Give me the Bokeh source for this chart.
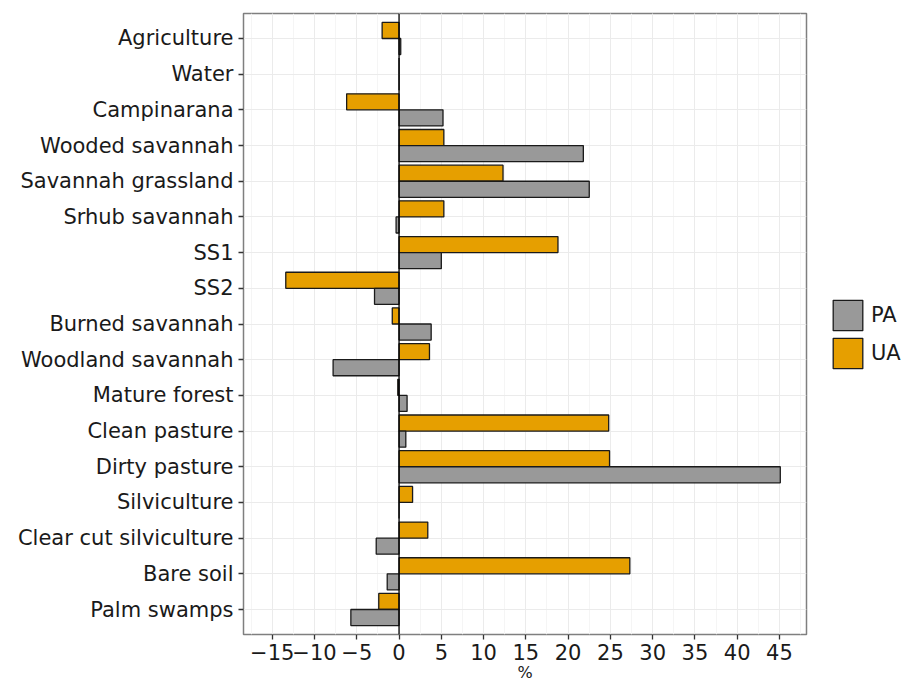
from bokeh.plotting import figure
from bokeh.models import ColumnDataSource, FactorRange, Span, Legend, LegendItem, SingleIntervalTicker
from bokeh.transform import dodge
from bokeh.embed import file_html
from bokeh.resources import INLINE

categories = ["Agriculture", "Water", "Campinarana", "Wooded savannah", "Savannah grassland",
              "Srhub savannah", "SS1", "SS2", "Burned savannah", "Woodland savannah",
              "Mature forest", "Clean pasture", "Dirty pasture", "Silviculture",
              "Clear cut silviculture", "Bare soil", "Palm swamps"]
ua_values = [-2.0, 0.0, -6.2, 5.3, 12.3, 5.3, 18.8, -13.4, -0.8, 3.6,
             -0.15, 24.8, 24.9, 1.6, 3.4, 27.3, -2.4]
pa_values = [0.2, 0.0, 5.2, 21.8, 22.5, -0.35, 5.0, -2.9, 3.8, -7.8,
             0.95, 0.8, 45.1, 0.0, -2.7, -1.4, -5.7]

FONT = "DejaVu Sans"
src = ColumnDataSource(dict(cat=categories, UA=ua_values, PA=pa_values))

p = figure(y_range=FactorRange(factors=list(reversed(categories)), range_padding=0.2,
                               range_padding_units="absolute"),
           x_range=(-18.4, 48.2),
           frame_width=563, frame_height=621,
           min_border_left=243, min_border_top=13, min_border_bottom=10, min_border_right=94,
           output_backend="svg", toolbar_location=None)

ua = p.hbar(y=dodge("cat", 0.225, range=p.y_range), left=0, right="UA", height=0.45,
            source=src, fill_color="#E69F00", line_color="#1a1a1a", line_width=1.3)
pa = p.hbar(y=dodge("cat", -0.225, range=p.y_range), left=0, right="PA", height=0.45,
            source=src, fill_color="#999999", line_color="#1a1a1a", line_width=1.3)

p.add_layout(Span(location=0, dimension="height", line_color="black", line_width=1.3))

p.xaxis.ticker = SingleIntervalTicker(interval=5, num_minor_ticks=2)
p.xaxis.axis_label = "%"
for ax in (p.xaxis[0], p.yaxis[0]):
    ax.axis_line_color = None
    ax.major_tick_line_color = "#333333"
    ax.major_tick_line_width = 1.3
    ax.major_tick_out = 5
    ax.major_tick_in = 0
    ax.minor_tick_line_color = None
    ax.major_label_text_font = FONT
    ax.major_label_text_font_size = "21px"
    ax.major_label_text_color = "#1a1a1a"
    ax.major_label_standoff = 5
p.xaxis.major_label_standoff = 4
p.xaxis.axis_label_text_font = FONT
p.xaxis.axis_label_text_font_style = "normal"
p.xaxis.axis_label_text_font_size = "16px"
p.xaxis.axis_label_text_color = "#1a1a1a"
p.xaxis.axis_label_standoff = 0

p.xgrid.grid_line_color = "#ebebeb"
p.xgrid.minor_grid_line_color = "#f5f5f5"
p.ygrid.grid_line_color = "#ebebeb"
p.outline_line_color = "#7f7f7f"
p.outline_line_width = 1.5
p.background_fill_color = "white"

legend = Legend(items=[LegendItem(label="PA", renderers=[pa]),
                       LegendItem(label="UA", renderers=[ua])],
                location=(23, 262), orientation="vertical",
                glyph_width=37, glyph_height=38, spacing=0, padding=0, margin=0,
                label_text_font=FONT, label_text_font_size="21px", label_standoff=5,
                label_text_color="#1a1a1a",
                border_line_color=None, background_fill_alpha=0)
p.add_layout(legend, "right")

open("out.html", "w").write(file_html(p, INLINE))
